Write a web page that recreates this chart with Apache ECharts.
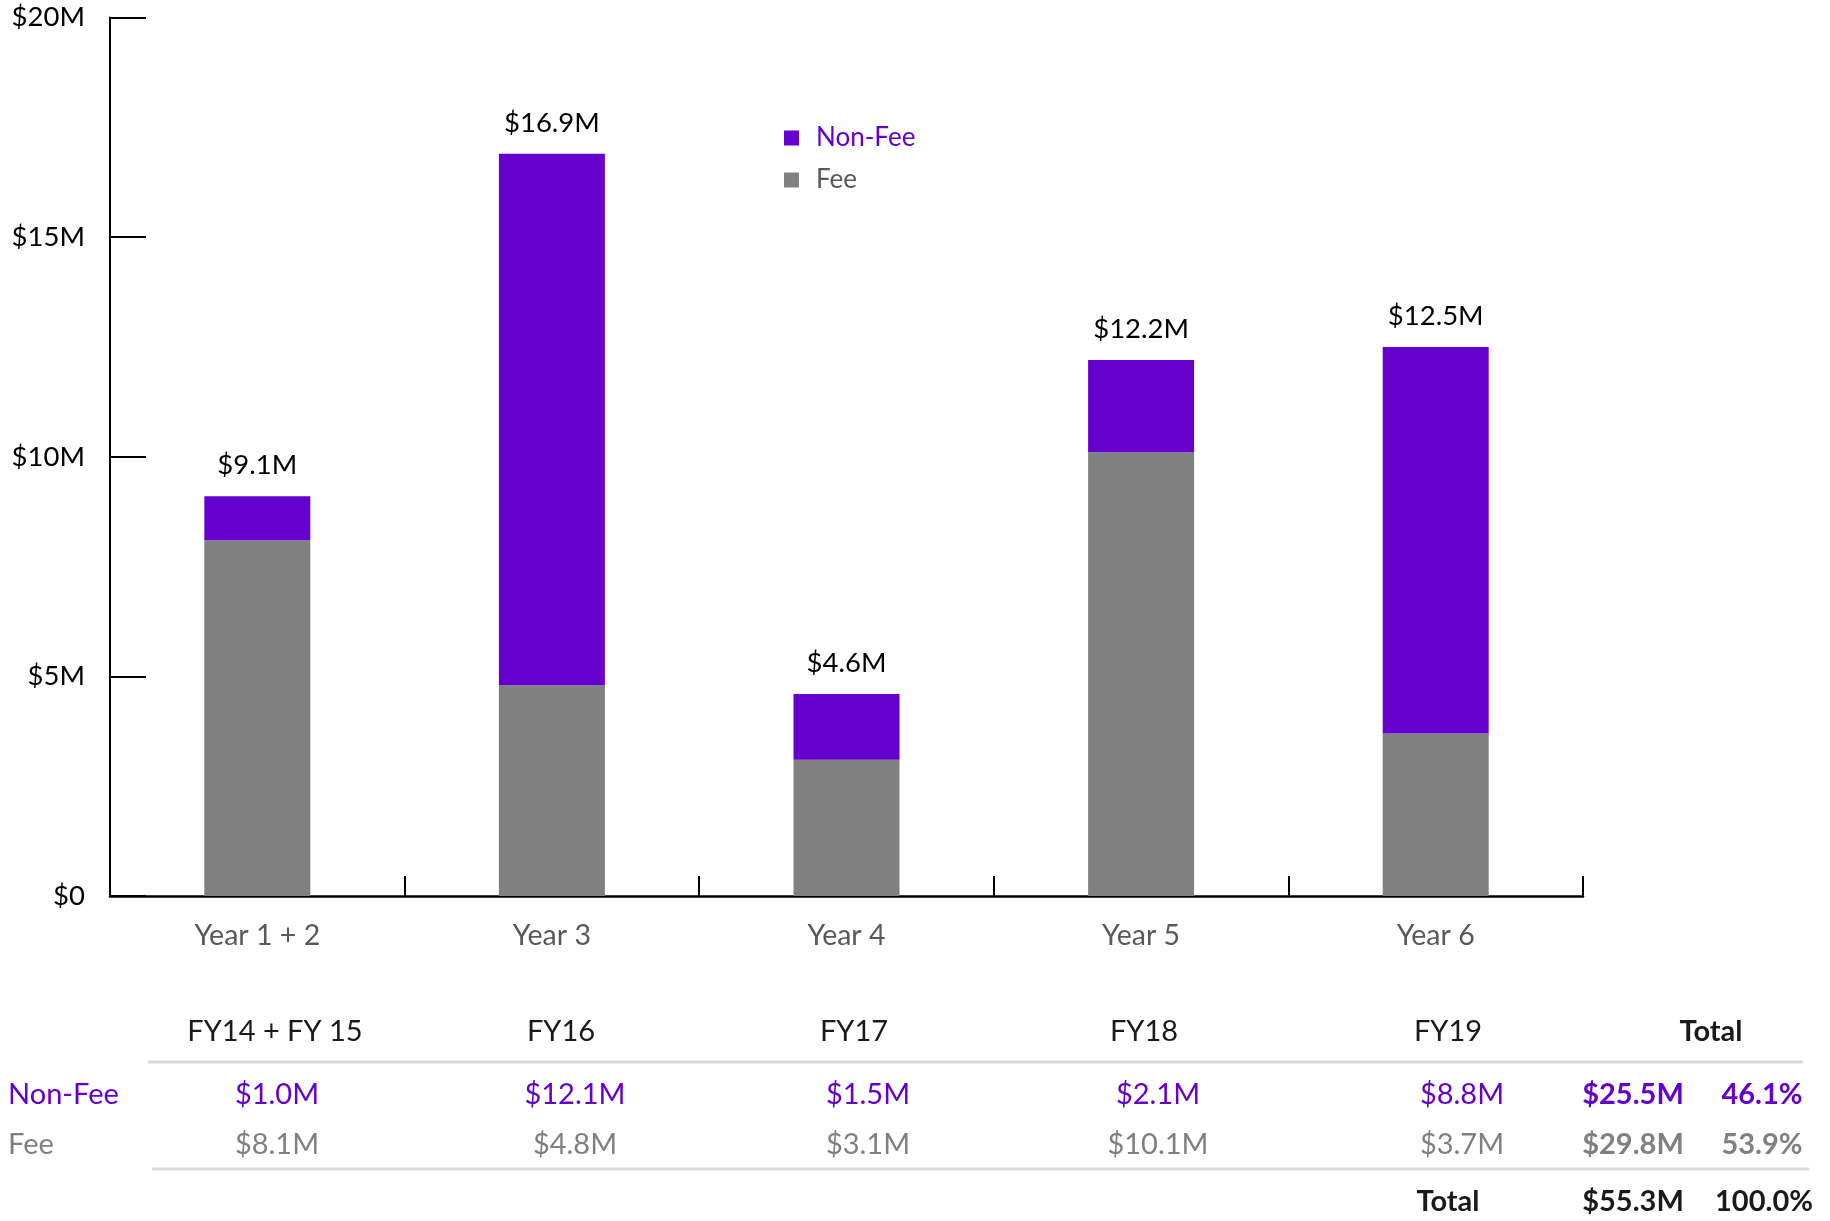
<!DOCTYPE html>
<html>
<head>
    <meta charset="UTF-8">
    <title>Fee / Non-Fee</title>
    <script src="https://cdn.jsdelivr.net/npm/echarts@6/dist/echarts.min.js"></script>
    <style>
        *{ padding:0; margin:0; }
        #main{ width:1830px; height:1221px; background:#fff; }
    </style>
</head>
<body>
<div id="main"></div>
<script>
var categories = ['Year 1 + 2', 'Year 3', 'Year 4', 'Year 5', 'Year 6'];
var fiscalYears = ['FY14 + FY 15', 'FY16', 'FY17', 'FY18', 'FY19'];
var feeValues = [8.1, 4.8, 3.1, 10.1, 3.7];
var nonFeeValues = [1.0, 12.1, 1.5, 2.1, 8.8];
var barTotals = [9.1, 16.9, 4.6, 12.2, 12.5];
var yTicks = [0, 5, 10, 15, 20];
var sumNonFee = 25.5, sumFee = 29.8, sumAll = 55.3;
var pctNonFee = 46.1, pctFee = 53.9, pctAll = 100.0;

var PURPLE = '#6600CC', GREY = '#808080', DARK = '#595959';
var FONT = 'Lato';

function money(v) { return '$' + v.toFixed(1) + 'M'; }

// table layout (pixels)
var colX = [277, 575, 868, 1158, 1462];
var headX = [275, 561, 854, 1144, 1448];
var totX = 1633, pctX = 1762, totHeadX = 1711;
var rowY = { head: 1032, nonFee: 1095, fee: 1145, total: 1202 };

function txt(s, x, y, color, bold, align) {
    return {
        type: 'text', x: x, y: y, silent: true,
        style: {
            text: s, fill: color,
            font: (bold ? 'bold ' : '') + '29px ' + FONT,
            align: align || 'center', verticalAlign: 'middle',
            textAlign: align || 'center', textVerticalAlign: 'middle'
        }
    };
}

var graphics = [];
fiscalYears.forEach(function (fy, i) {
    graphics.push(txt(fy, headX[i], rowY.head, '#1a1a1a', false));
    graphics.push(txt(money(nonFeeValues[i]), colX[i], rowY.nonFee, PURPLE, false));
    graphics.push(txt(money(feeValues[i]), colX[i], rowY.fee, GREY, false));
});
graphics.push(txt('Total', totHeadX, rowY.head, '#1a1a1a', true));
graphics.push(txt('Non-Fee', 8, rowY.nonFee, PURPLE, false, 'left'));
graphics.push(txt('Fee', 8, rowY.fee, GREY, false, 'left'));
graphics.push(txt(money(sumNonFee), totX, rowY.nonFee, PURPLE, true));
graphics.push(txt(pctNonFee.toFixed(1) + '%', pctX, rowY.nonFee, PURPLE, true));
graphics.push(txt(money(sumFee), totX, rowY.fee, GREY, true));
graphics.push(txt(pctFee.toFixed(1) + '%', pctX, rowY.fee, GREY, true));
graphics.push(txt('Total', 1448, rowY.total, '#1a1a1a', true));
graphics.push(txt(money(sumAll), totX, rowY.total, '#1a1a1a', true));
graphics.push(txt(pctAll.toFixed(1) + '%', 1764, rowY.total, '#1a1a1a', true));
// separator lines
graphics.push({ type: 'line', silent: true, shape: { x1: 148, y1: 1062, x2: 1803, y2: 1062 },
    style: { stroke: '#d9d9d9', lineWidth: 3 } });
graphics.push({ type: 'line', silent: true, shape: { x1: 152, y1: 1169, x2: 1809, y2: 1169 },
    style: { stroke: '#d9d9d9', lineWidth: 3 } });

var myChart = echarts.init(document.getElementById('main'));

var option = {
    animation: false,
    textStyle: { fontFamily: FONT },
    grid: { left: 110, right: 247, top: 17.5, bottom: 325, containLabel: false },
    legend: {
        orient: 'vertical',
        left: 779, top: 120,
        itemWidth: 15, itemHeight: 15, itemGap: 16,
        icon: 'rect',
        data: [
            { name: 'Non-Fee', textStyle: { color: PURPLE } },
            { name: 'Fee', textStyle: { color: DARK } }
        ],
        textStyle: { fontSize: 26, fontFamily: FONT, padding: [0, 0, 0, 12] }
    },
    xAxis: {
        type: 'category',
        data: categories,
        axisLine: { lineStyle: { color: '#000', width: 2.5 } },
        axisTick: { show: true, inside: true, length: 20, lineStyle: { color: '#000', width: 2 } },
        axisLabel: { color: DARK, fontSize: 28.5, margin: 25 }
    },
    yAxis: {
        type: 'value',
        min: 0, max: 20, interval: 5,
        splitLine: { show: false },
        axisLine: { show: true, lineStyle: { color: '#000', width: 2 } },
        axisTick: { show: true, inside: true, length: 36, lineStyle: { color: '#000', width: 2 } },
        axisLabel: {
            color: '#000', fontSize: 27.5, margin: 25,
            formatter: function (v) { return yTicks.indexOf(v) >= 0 ? (v === 0 ? '$0' : '$' + v + 'M') : ''; }
        }
    },
    series: [
        {
            name: 'Fee', type: 'bar', stack: 'total', barWidth: 106,
            itemStyle: { color: GREY },
            data: feeValues
        },
        {
            name: 'Non-Fee', type: 'bar', stack: 'total', barWidth: 106,
            itemStyle: { color: PURPLE },
            label: {
                show: true, position: 'top', distance: 17,
                color: '#000', fontSize: 27.5, fontFamily: FONT,
                formatter: function (p) { return money(barTotals[p.dataIndex]); }
            },
            data: nonFeeValues
        }
    ],
    graphic: graphics
};

myChart.setOption(option);
</script>
</body>
</html>
